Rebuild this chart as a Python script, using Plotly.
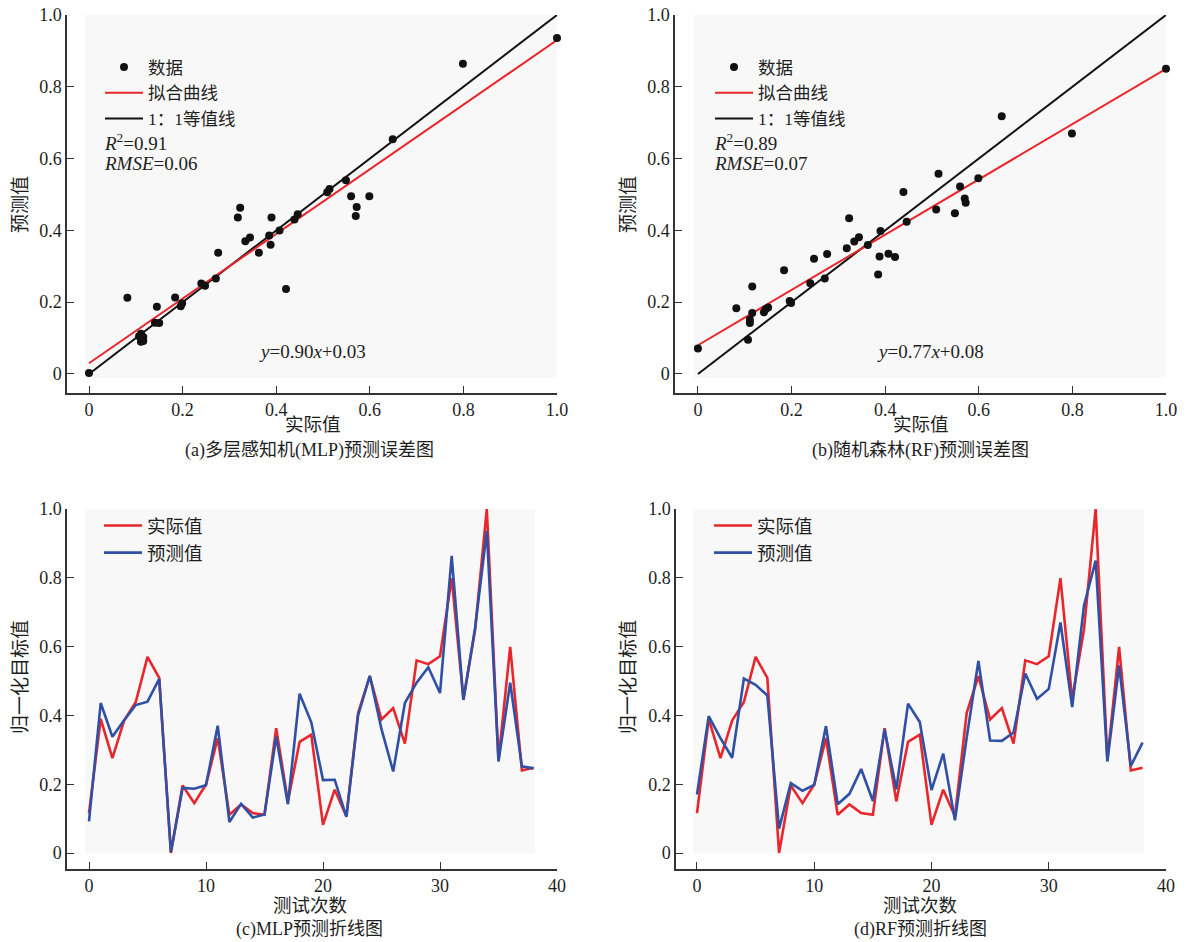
import plotly.graph_objects as go

# ---------------- data ----------------
test_index = list(range(39))
actual = [0.116, 0.390, 0.276, 0.385, 0.439, 0.570, 0.509, 0.000, 0.196, 0.145,
          0.199, 0.334, 0.111, 0.141, 0.116, 0.111, 0.363, 0.150, 0.323, 0.344,
          0.082, 0.184, 0.107, 0.407, 0.514, 0.388, 0.421, 0.318, 0.560, 0.549,
          0.572, 0.799, 0.446, 0.649, 1.000, 0.271, 0.599, 0.240, 0.248]
pred_mlp = [0.092, 0.436, 0.338, 0.386, 0.430, 0.440, 0.506, 0.003, 0.189, 0.187,
            0.197, 0.370, 0.090, 0.143, 0.103, 0.112, 0.338, 0.142, 0.463, 0.380,
            0.212, 0.213, 0.105, 0.400, 0.515, 0.360, 0.237, 0.436, 0.495, 0.540,
            0.465, 0.864, 0.445, 0.654, 0.936, 0.266, 0.495, 0.252, 0.246]
pred_rf = [0.170, 0.398, 0.334, 0.277, 0.507, 0.489, 0.458, 0.071, 0.203, 0.181,
           0.198, 0.369, 0.142, 0.172, 0.244, 0.151, 0.359, 0.185, 0.434, 0.381,
           0.183, 0.289, 0.095, 0.335, 0.558, 0.327, 0.326, 0.350, 0.522, 0.448,
           0.477, 0.670, 0.424, 0.718, 0.850, 0.266, 0.545, 0.253, 0.321]

fit_slope = [0.90, 0.77]
fit_intercept = [0.03, 0.08]
r2_values = [0.91, 0.89]
rmse_values = [0.06, 0.07]
line_x = [0.0, 1.0]

scatter_ticks = [0, 0.2, 0.4, 0.6, 0.8, 1.0]
scatter_ticktext = ["0", "0.2", "0.4", "0.6", "0.8", "1.0"]
line_xticks = [0, 10, 20, 30, 40]
line_xticktext = ["0", "10", "20", "30", "40"]

captions = ["(a)多层感知机(MLP)预测误差图", "(b)随机森林(RF)预测误差图",
            "(c)MLP预测折线图", "(d)RF预测折线图"]

# ---------------- styling ----------------
W, H = 1187, 942
FONT = "Liberation Serif, Noto Sans CJK SC, serif"
RED = "#e8262b"
BLUE = "#3050a6"
AX = "#333333"
BG = "#f8f8f8"
TXT = "#1e1e1e"


def px(x):
    return x / W


def py(y):
    return 1 - y / H


fig = go.Figure()

axis_common = dict(showline=True, linecolor=AX, linewidth=1.5, ticks="inside",
                   ticklen=7, tickwidth=1.3, tickcolor=AX, showgrid=False,
                   zeroline=False, automargin=False,
                   tickfont=dict(family=FONT, size=18, color=TXT),
                   fixedrange=True)

panels = [
    ("x", "y", (67, 557), [-0.047, 1.0], (15, 393), [-0.053, 1.0]),
    ("x2", "y2", (675, 1166), [-0.049, 1.0], (15, 393), [-0.053, 1.0]),
    ("x3", "y3", (67, 557), [-1.88, 40], (509, 869), [-0.0465, 1.0]),
    ("x4", "y4", (676, 1166), [-1.79, 40], (509, 869), [-0.0465, 1.0]),
]

layout_axes = {}
for i, (xa, ya, xd, xr, yd, yr) in enumerate(panels):
    xkey = "xaxis" if xa == "x" else "xaxis" + xa[1:]
    ykey = "yaxis" if ya == "y" else "yaxis" + ya[1:]
    if i < 2:
        xt, xtt = scatter_ticks, scatter_ticktext
    else:
        xt, xtt = line_xticks, line_xticktext
    layout_axes[xkey] = dict(axis_common, domain=[px(xd[0]), px(xd[1])], range=xr,
                             anchor=ya, tickvals=xt, ticktext=xtt)
    layout_axes[ykey] = dict(axis_common, domain=[py(yd[1]), py(yd[0])], range=yr,
                             anchor=xa, tickvals=scatter_ticks, ticktext=scatter_ticktext)

shapes = [
    dict(type="rect", xref="x", yref="y", x0=-0.009, x1=1.009, y0=-0.011, y1=1.0,
         fillcolor=BG, line=dict(width=0), layer="below"),
    dict(type="rect", xref="x2", yref="y2", x0=-0.009, x1=1.009, y0=-0.011, y1=1.0,
         fillcolor=BG, line=dict(width=0), layer="below"),
    dict(type="rect", xref="x3", yref="y3", x0=-0.34, x1=38.1, y0=0.0, y1=1.005,
         fillcolor=BG, line=dict(width=0), layer="below"),
    dict(type="rect", xref="x4", yref="y4", x0=-0.34, x1=38.1, y0=0.0, y1=1.005,
         fillcolor=BG, line=dict(width=0), layer="below"),
]

legend_names = ["legend", "legend2", "legend3", "legend4"]

preds = [pred_mlp, pred_rf]
for k in range(2):
    xa, ya = panels[k][0], panels[k][1]
    lg = legend_names[k]
    fit_y = [fit_slope[k] * v + fit_intercept[k] for v in line_x]
    fig.add_trace(go.Scatter(x=line_x, y=line_x, mode="lines", name="1：1等值线",
                             line=dict(color="#111111", width=2), xaxis=xa, yaxis=ya,
                             legend=lg, legendrank=3, cliponaxis=False))
    fig.add_trace(go.Scatter(x=line_x, y=fit_y, mode="lines", name="拟合曲线",
                             line=dict(color=RED, width=2), xaxis=xa, yaxis=ya,
                             legend=lg, legendrank=2, cliponaxis=False))
    fig.add_trace(go.Scatter(x=actual, y=preds[k], mode="markers", name="数据",
                             marker=dict(color="#111111", size=8), xaxis=xa, yaxis=ya,
                             legend=lg, legendrank=1, cliponaxis=False))

for k in range(2):
    xa, ya = panels[k + 2][0], panels[k + 2][1]
    lg = legend_names[k + 2]
    fig.add_trace(go.Scatter(x=test_index, y=actual, mode="lines", name="实际值",
                             line=dict(color=RED, width=2.6), xaxis=xa, yaxis=ya,
                             legend=lg, legendrank=1, cliponaxis=False))
    fig.add_trace(go.Scatter(x=test_index, y=preds[k], mode="lines", name="预测值",
                             line=dict(color=BLUE, width=2.6), xaxis=xa, yaxis=ya,
                             legend=lg, legendrank=2, cliponaxis=False))

legend_common = dict(bgcolor="rgba(0,0,0,0)", borderwidth=0, xanchor="left",
                     yanchor="top", tracegroupgap=0, itemclick=False,
                     itemdoubleclick=False, itemwidth=38)
font_sc = dict(family=FONT, size=17.5, color=TXT)
font_ln = dict(family=FONT, size=18.5, color=TXT)
legends = {
    "legend": dict(legend_common, font=font_sc, x=px(100), y=py(49)),
    "legend2": dict(legend_common, font=font_sc, x=px(710), y=py(49)),
    "legend3": dict(legend_common, font=font_ln, x=px(99), y=py(507)),
    "legend4": dict(legend_common, font=font_ln, x=px(709), y=py(507)),
}

annotations = []


def ann(text, x, y, size=19, xanchor="center", angle=0):
    annotations.append(dict(text=text, x=px(x), y=py(y), xref="paper", yref="paper",
                            showarrow=False, xanchor=xanchor, yanchor="middle",
                            textangle=angle,
                            font=dict(family=FONT, size=size, color=TXT)))


ann("实际值", 313, 425, size=18.5)
ann("实际值", 921, 425, size=18.5)
ann("预测值", 20, 205, angle=-90)
ann("预测值", 628, 205, angle=-90)
ann("测试次数", 310, 906, size=18.5)
ann("测试次数", 920, 906, size=18.5)
ann("归一化目标值", 20, 677, angle=-90)
ann("归一化目标值", 628, 677, angle=-90)
ann(captions[0], 310, 450, size=18)
ann(captions[1], 920, 450, size=18)
ann(captions[2], 310, 929, size=18)
ann(captions[3], 920, 929, size=18)

stat_x = [102, 712]
for k in range(2):
    ann("<i>R</i><sup>2</sup>=%.2f" % r2_values[k], stat_x[k], 142, xanchor="left")
    ann("<i>RMSE</i>=%.2f" % rmse_values[k], stat_x[k], 164, xanchor="left")
eq_x = [312, 930]
for k in range(2):
    ann("<i>y</i>=%.2f<i>x</i>+%.2f" % (fit_slope[k], fit_intercept[k]), eq_x[k], 351)

fig.update_layout(width=W, height=H,
                  margin=dict(l=0, r=0, t=0, b=0, pad=0, autoexpand=False),
                  paper_bgcolor="white", plot_bgcolor="white",
                  shapes=shapes, annotations=annotations, showlegend=True,
                  **layout_axes, **legends)

fig.write_html("out.html", config={"displayModeBar": False},
               post_script="document.body.style.margin='0';")
